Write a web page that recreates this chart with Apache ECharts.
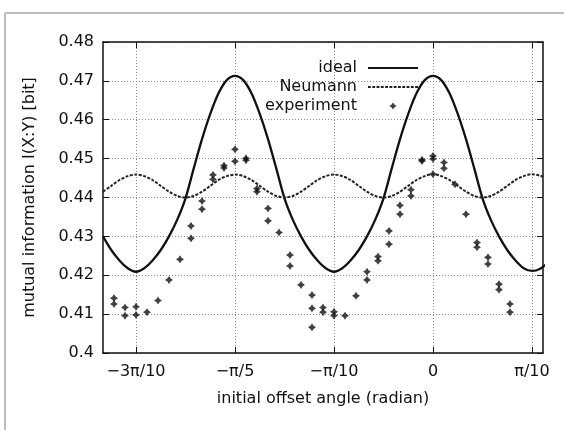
<!DOCTYPE html>
<html>
<head>
<meta charset="utf-8">
<script src="https://cdn.jsdelivr.net/npm/echarts@6/dist/echarts.min.js"></script>
<style>
  html, body { margin: 0; padding: 0; background: #fff; }
  #mi { width: 564px; height: 430px; }
</style>
</head>
<body>
<div id="mi"></div>
<script>
  // angles in degrees (axis is labelled in fractions of pi)
  var curveAngle = [-60, -58.5, -57, -55.5, -54, -52.5, -51, -49.5, -48, -46.5, -45, -43.5, -42, -40.5, -39, -37.5,
    -36, -34.5, -33, -31.5, -30, -28.5, -27, -25.5, -24, -22.5, -21, -19.5, -18, -16.5, -15, -13.5,
    -12, -10.5, -9, -7.5, -6, -4.5, -3, -1.5, 0, 1.5, 3, 4.5, 6, 7.5, 9, 10.5, 12, 13.5, 15, 16.5, 18, 19.5, 21];
  var idealValue = [0.4300, 0.4265, 0.4238, 0.4218, 0.4209, 0.4218, 0.4238, 0.4265, 0.4300, 0.4343, 0.4398, 0.4475, 0.4550, 0.4615, 0.4668, 0.4702,
    0.4713, 0.4702, 0.4668, 0.4615, 0.4550, 0.4475, 0.4398, 0.4343, 0.4300, 0.4265, 0.4238, 0.4218, 0.4209, 0.4218, 0.4238, 0.4265,
    0.4300, 0.4343, 0.4398, 0.4475, 0.4550, 0.4615, 0.4668, 0.4702, 0.4713, 0.4702, 0.4668, 0.4615, 0.4550, 0.4475, 0.4398, 0.4343,
    0.4300, 0.4265, 0.4238, 0.4218, 0.4211, 0.4217, 0.4234];
  var neumannValue = [0.4415, 0.4430, 0.4445, 0.4455, 0.4459, 0.4455, 0.4445, 0.4430, 0.4415, 0.4404, 0.4400, 0.4404, 0.4415, 0.4430, 0.4445, 0.4455,
    0.4459, 0.4455, 0.4445, 0.4430, 0.4415, 0.4404, 0.4400, 0.4404, 0.4415, 0.4430, 0.4445, 0.4455, 0.4459, 0.4455, 0.4445, 0.4430,
    0.4415, 0.4404, 0.4400, 0.4404, 0.4415, 0.4430, 0.4445, 0.4455, 0.4460, 0.4455, 0.4445, 0.4430, 0.4415, 0.4404, 0.4400, 0.4404,
    0.4415, 0.4430, 0.4445, 0.4455, 0.4460, 0.4456, 0.4447];

  var expAngle = [-58, -58, -56, -56, -54, -54, -52, -50, -48, -46, -44, -44, -42, -42, -40, -40, -38, -38,
    -36, -36, -34, -34, -32, -32, -30, -30, -28, -26, -26, -24, -22, -22, -22, -20, -20, -18, -18, -16,
    -14, -12, -12, -10, -10, -8, -8, -6, -6, -4, -4, -2, -2, 0, 0, 0, 2, 2, 4, 6, 8, 8, 10, 10, 12, 12, 14, 14];
  var expValue = [0.4141, 0.4126, 0.4117, 0.4096, 0.4119, 0.4098, 0.4105, 0.4135, 0.4188, 0.4241, 0.4327, 0.4295, 0.4391, 0.4370, 0.4458, 0.4447, 0.4482, 0.4476,
    0.4524, 0.4493, 0.4501, 0.4496, 0.4423, 0.4415, 0.4372, 0.4340, 0.4310, 0.4252, 0.4224, 0.4175, 0.4149, 0.4115, 0.4066, 0.4117, 0.4105, 0.4106, 0.4096, 0.4096,
    0.4147, 0.4209, 0.4188, 0.4248, 0.4237, 0.4314, 0.4280, 0.4380, 0.4357, 0.4420, 0.4404, 0.4497, 0.4494, 0.4507, 0.4499, 0.4460, 0.4490, 0.4475, 0.4434, 0.4357, 0.4284, 0.4272, 0.4246, 0.4229, 0.4177, 0.4163, 0.4126, 0.4105];

  var xTicks = [-54, -36, -18, 0, 18];
  var xTickLabels = ['\u22123\u03c0/10', '\u2212\u03c0/5', '\u2212\u03c0/10', '0', '\u03c0/10'];

  // the scan is a bit stretched sideways, so a wide face for the text
  var font = 'DejaVu Sans';
  var ink = '#111';
  var markPath = 'path://M0,-4L1.6,-1.6L4,0L1.6,1.6L0,4L-1.6,1.6L-4,0L-1.6,-1.6Z';

  function pairs(xs, ys) {
    var out = [];
    for (var i = 0; i < xs.length; i++) out.push([xs[i], ys[i]]);
    return out;
  }

  // legend samples, all 50px wide so the three rows line up
  var solidIcon = 'path://M0,0H50V2H0Z';
  var dashIcon = 'path://';
  for (var dx = 0; dx < 50; dx += 4.5) dashIcon += 'M' + dx + ',0h3v2h-3Z';
  var markIcon = 'path://M0,0M50,7M25,0L26.4,2.1L28.5,3.5L26.4,4.9L25,7L23.6,4.9L21.5,3.5L23.6,2.1Z';

  var chart = echarts.init(document.getElementById('mi'));

  var tickCommon = { show: true, inside: true, length: 6, lineStyle: { color: ink, width: 1 } };
  var gridLine = { show: true, lineStyle: { color: '#8a8a8a', type: [1, 2], width: 1 } };
  var frameLine = { show: true, onZero: false, lineStyle: { color: ink, width: 1.5 } };

  function legendFor(name, icon, top) {
    return {
      data: [{ name: name, icon: icon }],
      orient: 'vertical',
      align: 'right',
      right: 146,
      top: top,
      padding: 0,
      itemWidth: 50,
      itemHeight: 14,
      textStyle: { fontFamily: font, fontSize: 16, color: ink, padding: [0, 6, 0, 0] }
    };
  }

  var option = {
    backgroundColor: '#fff',
    animation: false,
    graphic: [
      { type: 'line', shape: { x1: 5, y1: 13, x2: 564, y2: 13 }, style: { stroke: '#bdbdbd', lineWidth: 2 } },
      { type: 'line', shape: { x1: 5, y1: 13, x2: 5, y2: 430 }, style: { stroke: '#bdbdbd', lineWidth: 2 } }
    ],
    legend: [
      legendFor('ideal', solidIcon, 60),
      legendFor('Neumann', dashIcon, 79),
      legendFor('experiment', markIcon, 98)
    ],
    grid: { left: 103, right: 21, top: 42, bottom: 77 },
    xAxis: [
      {
        type: 'value', min: -60, max: 20, position: 'bottom',
        name: 'initial offset angle (radian)', nameLocation: 'middle', nameGap: 38,
        nameTextStyle: { fontFamily: font, fontSize: 16, color: ink },
        axisLine: frameLine,
        axisTick: Object.assign({ customValues: xTicks }, tickCommon),
        axisLabel: {
          customValues: xTicks, margin: 11, fontFamily: font, fontSize: 16, color: ink,
          formatter: function (v) { return xTickLabels[xTicks.indexOf(v)]; }
        },
        splitLine: gridLine
      },
      {
        type: 'value', min: -60, max: 20, position: 'top',
        axisLine: frameLine,
        axisTick: Object.assign({ customValues: xTicks }, tickCommon),
        axisLabel: { show: false },
        splitLine: { show: false }
      }
    ],
    yAxis: [
      {
        type: 'value', min: 0.4, max: 0.48, interval: 0.01, position: 'left',
        name: 'mutual information I(X:Y) [bit]', nameLocation: 'middle', nameGap: 65,
        nameTextStyle: { fontFamily: font, fontSize: 16, color: ink },
        axisLine: frameLine,
        axisTick: tickCommon,
        axisLabel: { margin: 9, fontFamily: font, fontSize: 16, color: ink },
        splitLine: gridLine
      },
      {
        type: 'value', min: 0.4, max: 0.48, interval: 0.01, position: 'right',
        axisLine: frameLine,
        axisTick: tickCommon,
        axisLabel: { show: false },
        splitLine: { show: false }
      }
    ],
    series: [
      {
        name: 'ideal', type: 'line', showSymbol: false, symbol: 'none', smooth: 0.3, clip: true,
        lineStyle: { color: '#111', width: 2.3 },
        itemStyle: { color: '#111' },
        data: pairs(curveAngle, idealValue)
      },
      {
        name: 'Neumann', type: 'line', showSymbol: false, symbol: 'none', smooth: 0.3, clip: true,
        lineStyle: { color: '#222', width: 2, type: [3, 1.5] },
        itemStyle: { color: '#222' },
        data: pairs(curveAngle, neumannValue)
      },
      {
        name: 'experiment', type: 'scatter',
        symbol: markPath,
        symbolSize: 8,
        itemStyle: { color: '#111' },
        data: pairs(expAngle, expValue)
      }
    ]
  };

  chart.clear();
  chart.setOption(option);
</script>
</body>
</html>
